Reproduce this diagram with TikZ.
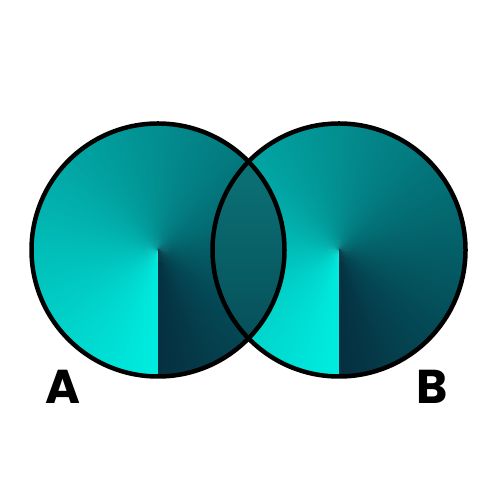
\documentclass[tikz,border=0pt]{standalone}
\usepackage{fontspec}
\setmainfont{Poppins}
\usepackage{tikz}
\usetikzlibrary{calc}
\definecolor{setLight}{RGB}{0, 236, 224}
\definecolor{setDark}{RGB}{5, 48, 64}
\definecolor{capTop}{RGB}{14, 132, 134}
\definecolor{capBot}{RGB}{4, 62, 74}

\begin{document}
\begin{tikzpicture}[font=\bfseries\fontsize{27}{30}\selectfont]
  % canvas 500x500 px, 1px = 0.02cm
  \useasboundingbox (0,0) rectangle (10,10);
  \def\rad{2.53}
  \def\wdg{2}

  \coordinate (cA) at (3.16, 5.0);
  \coordinate (cB) at (6.78, 5.0);

  % Conic fill of each set, wedge by wedge
  \foreach \ctr in {cA, cB} {
    \foreach \i in {0,...,179} {
      \pgfmathsetmacro{\ang}{270 - \i*\wdg}
      \pgfmathsetmacro{\pct}{100 - \i/179*100}
      \pgfmathsetmacro{\stop}{max(\ang-2*\wdg,-90)}
      \fill[setLight!\pct!setDark]
        (\ctr) -- ++(\ang:\rad) arc (\ang:\stop:\rad) -- cycle;
    }
  }

  % Overlap
  \begin{scope}
    \clip (cA) circle (\rad);
    \clip (cB) circle (\rad);
    \shade[top color=capTop, bottom color=capBot]
      ($(cB)+(-\rad,-3.6)$) rectangle ($(cB)+(0,3.6)$);
  \end{scope}

  % Outlines
  \draw[line width=0.09cm] (cA) circle (\rad);
  \draw[line width=0.09cm] (cB) circle (\rad);

  \node[anchor=base] (labA) at (1.26, 1.92) {A};
  \node[anchor=base] (labB) at (8.64, 1.92) {B};
\end{tikzpicture}
\end{document}
